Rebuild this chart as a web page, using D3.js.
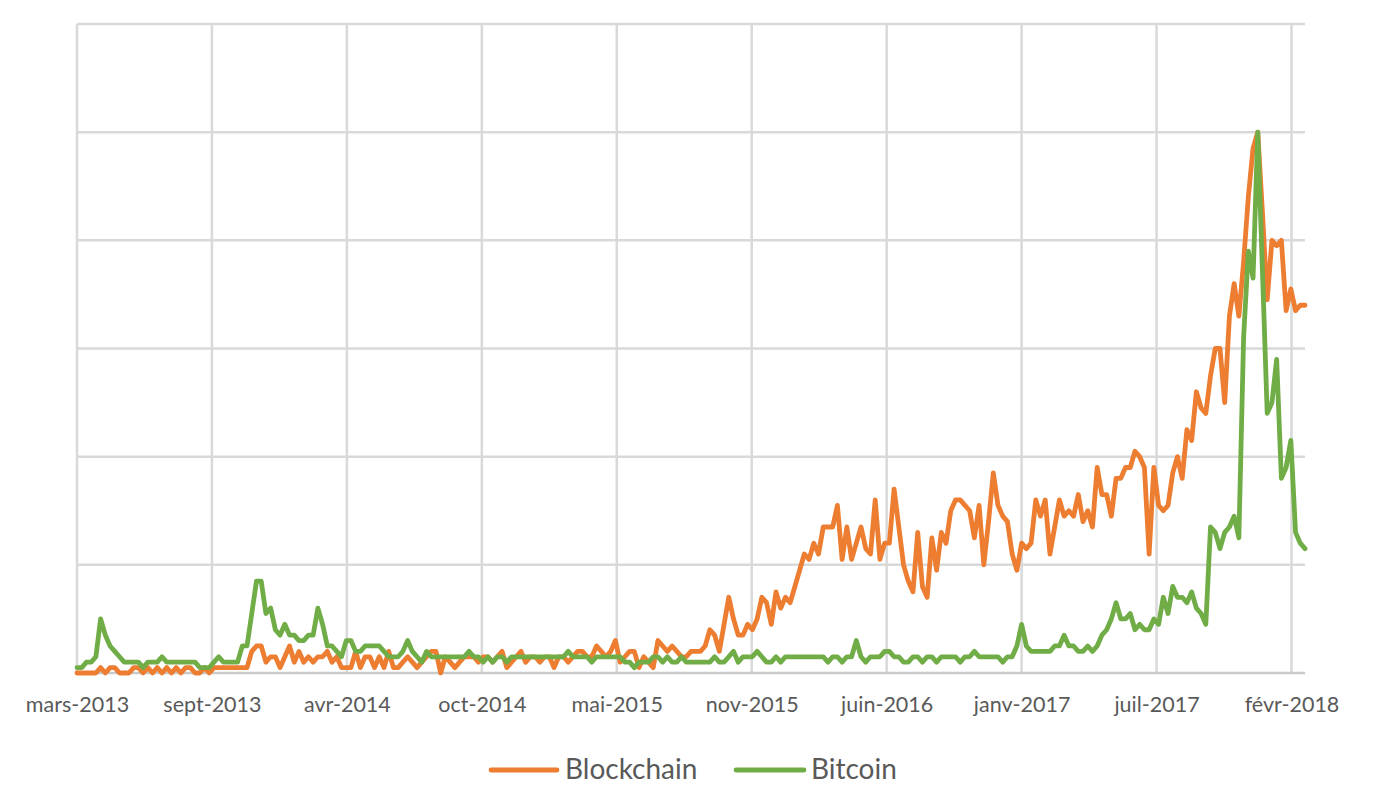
<!DOCTYPE html>
<html>
<head>
<meta charset="utf-8">
<script src="https://cdn.jsdelivr.net/npm/d3@7"></script>
<style>
  html, body { margin: 0; padding: 0; background: #ffffff; }
  svg { display: block; }
</style>
</head>
<body>
<svg id="chart" width="1380" height="799"></svg>
<script>
// ---- Data (weekly Google-Trends style index, first week 2013-03-03) ----
const startWeek = "2013-03-03";
const seriesNames = ["Blockchain", "Bitcoin"];

const blockchain = [
  0,0,0,0,0,1,0,1,1,0,
  0,0,1,1,0,1,0,1,0,1,
  0,1,0,1,1,0,0,1,0,1,
  1,1,1,1,1,1,1,4,5,5,
  2,3,3,1,3,5,2,4,2,3,
  2,3,3,4,2,3,1,1,1,4,
  1,3,3,1,3,1,4,1,1,2,
  3,2,1,2,3,4,4,0,3,2,
  1,2,3,3,3,2,3,3,2,3,
  4,1,2,3,4,2,3,3,2,3,
  3,1,3,3,2,3,4,4,3,3,
  5,4,3,4,6,2,3,4,4,1,
  3,2,1,6,5,4,5,4,3,3,
  4,4,4,5,8,7,4,9,14,10,
  7,7,9,8,10,14,13,9,15,12,
  14,13,16,19,22,21,24,22,27,27,
  27,31,21,27,21,24,27,23,22,32,
  21,24,24,34,27,20,17,15,26,16,
  14,25,19,26,24,30,32,32,31,30,
  25,31,20,28,37,31,29,28,22,19,
  24,23,24,32,29,32,22,27,32,29,
  30,29,33,28,30,27,38,33,33,29,
  36,36,38,38,41,40,38,22,38,31,
  30,31,37,40,36,45,43,52,49,48,
  55,60,60,50,66,72,66,76,88,97,
  100,85,69,80,79,80,67,71,67,68,68
];

const bitcoin = [
  1,1,2,2,3,10,7,5,4,3,
  2,2,2,2,1,2,2,2,3,2,
  2,2,2,2,2,2,1,1,1,2,
  3,2,2,2,2,5,5,11,17,17,
  11,12,8,7,9,7,7,6,6,7,
  7,12,9,5,5,4,3,6,6,4,
  4,5,5,5,5,4,3,3,3,4,
  6,4,3,2,4,3,3,3,3,3,
  3,3,3,4,3,3,2,3,2,3,
  3,2,3,3,3,3,3,3,3,3,
  3,3,3,3,4,3,3,3,3,2,
  3,3,3,3,3,3,2,2,1,2,
  2,2,3,3,2,3,2,2,3,2,
  2,2,2,2,2,3,2,2,3,4,
  2,3,3,3,4,3,2,2,3,2,
  3,3,3,3,3,3,3,3,3,2,
  3,3,2,3,3,6,3,2,3,3,
  3,4,4,3,3,2,2,3,3,2,
  3,3,2,3,3,3,3,2,3,3,
  4,3,3,3,3,3,2,3,3,5,
  9,5,4,4,4,4,4,5,5,7,
  5,5,4,4,5,4,5,7,8,10,
  13,10,10,11,8,9,8,8,10,9,
  14,11,16,14,14,13,15,12,11,9,
  27,26,23,26,27,29,25,62,78,73,
  100,74,48,50,58,36,38,43,26,24,23
];

const tickDates  = ["2013-03-03","2013-09-19","2014-04-07","2014-10-24","2015-05-12",
                    "2015-11-28","2016-06-15","2017-01-01","2017-07-20","2018-02-05"];
const tickLabels = ["mars-2013","sept-2013","avr-2014","oct-2014","mai-2015",
                    "nov-2015","juin-2016","janv-2017","juil-2017","févr-2018"];
const yTicks = [0, 20, 40, 60, 80, 100, 120];

// ---- Setup ----
const parse = d3.utcParse("%Y-%m-%d");
const start = parse(startWeek);
const weeks = d3.range(blockchain.length).map(i => d3.utcDay.offset(start, 7 * i));

const plot = { left: 77, right: 1305, top: 24, bottom: 673 };
const colors = { Blockchain: "#ED7D31", Bitcoin: "#70AD47" };

const x = d3.scaleUtc()
  .domain([weeks[0], weeks[weeks.length - 1]])
  .range([plot.left, plot.right]);
const y = d3.scaleLinear()
  .domain([0, 120])
  .range([plot.bottom, plot.top]);

const svg = d3.select("#chart");

// horizontal gridlines
svg.append("g").selectAll("line")
  .data(yTicks.filter(v => v > 0))
  .join("line")
  .attr("x1", plot.left).attr("x2", plot.right)
  .attr("y1", d => y(d)).attr("y2", d => y(d))
  .attr("stroke", "#d9d9d9").attr("stroke-width", 2.5);

// vertical gridlines at category ticks
const tickDateObjs = tickDates.map(parse);
svg.append("g").selectAll("line")
  .data(tickDateObjs)
  .join("line")
  .attr("x1", d => x(d)).attr("x2", d => x(d))
  .attr("y1", plot.top).attr("y2", plot.bottom)
  .attr("stroke", "#d9d9d9").attr("stroke-width", 2.5);

// x axis line
svg.append("line")
  .attr("x1", plot.left).attr("x2", plot.right)
  .attr("y1", y(0)).attr("y2", y(0))
  .attr("stroke", "#c9c9c9").attr("stroke-width", 2.5);

// x tick labels via axis
const xAxis = d3.axisBottom(x)
  .tickValues(tickDateObjs)
  .tickSize(0)
  .tickPadding(0)
  .tickFormat((d, i) => tickLabels[i]);
const gx = svg.append("g")
  .attr("transform", `translate(0,${plot.bottom})`)
  .call(xAxis);
gx.select(".domain").remove();
gx.selectAll("text")
  .attr("dy", null)
  .attr("y", 39)
  .attr("fill", "#595959")
  .style("font-family", "Lato, 'Open Sans', sans-serif")
  .style("font-size", "21.5px");

// lines
const line = d3.line()
  .x((d, i) => x(weeks[i]))
  .y(d => y(d));

[["Blockchain", blockchain], ["Bitcoin", bitcoin]].forEach(([name, vals]) => {
  svg.append("path")
    .datum(vals)
    .attr("d", line)
    .attr("fill", "none")
    .attr("stroke", colors[name])
    .attr("stroke-width", 4.8)
    .attr("stroke-linejoin", "round")
    .attr("stroke-linecap", "round");
});

// legend
const legendItems = [
  { name: "Blockchain", x1: 491, x2: 557, tx: 565 },
  { name: "Bitcoin", x1: 736, x2: 804, tx: 811 }
];
const lg = svg.append("g");
legendItems.forEach(it => {
  lg.append("line")
    .attr("x1", it.x1).attr("x2", it.x2)
    .attr("y1", 770).attr("y2", 770)
    .attr("stroke", colors[it.name])
    .attr("stroke-width", 4.8)
    .attr("stroke-linecap", "round");
  lg.append("text")
    .attr("x", it.tx).attr("y", 779)
    .attr("fill", "#595959")
    .style("font-family", "Lato, 'Open Sans', sans-serif")
    .style("font-size", "28px")
    .text(it.name);
});
</script>
</body>
</html>
